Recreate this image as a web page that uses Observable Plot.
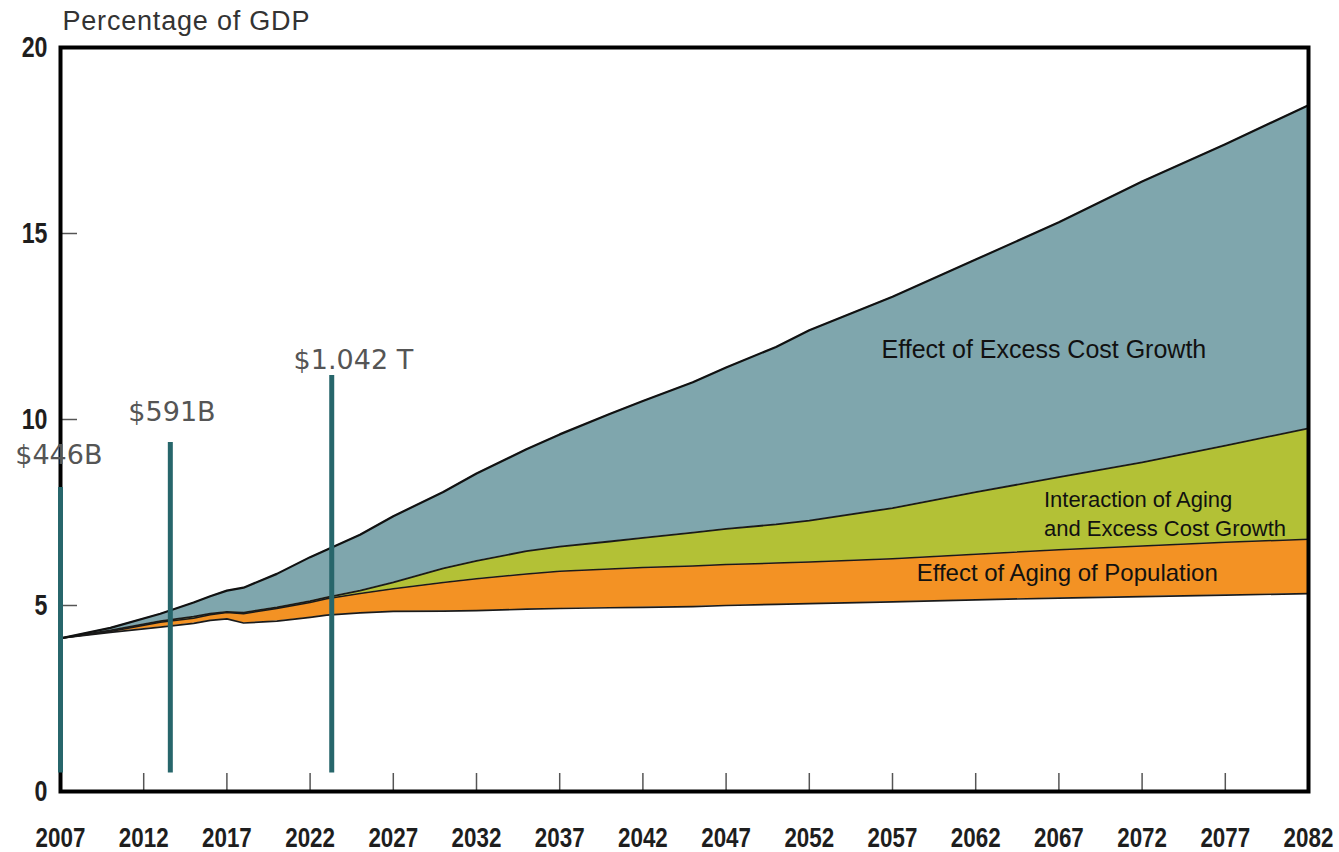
<!DOCTYPE html>
<html>
<head>
<meta charset="utf-8">
<script src="https://cdn.jsdelivr.net/npm/d3@7"></script>
<script src="https://cdn.jsdelivr.net/npm/@observablehq/plot@0.6"></script>
<style>
  html, body { margin: 0; padding: 0; background: #fff; }
  #chart { width: 1339px; height: 852px; }
</style>
</head>
<body>
<div id="chart"></div>
<script>
// ---- Data (percentage of GDP) ----
const years          = [2007, 2010, 2013, 2015, 2016, 2017, 2018, 2020, 2022, 2023, 2025, 2027, 2030, 2032, 2035, 2037, 2040, 2042, 2045, 2047, 2050, 2052, 2057, 2062, 2067, 2072, 2077, 2082];
// bottom of the orange band (spending without aging / excess cost growth)
const baseline       = [4.12, 4.28, 4.42, 4.52, 4.60, 4.64, 4.53, 4.58, 4.68, 4.74, 4.80, 4.84, 4.85, 4.86, 4.90, 4.92, 4.94, 4.95, 4.97, 5.00, 5.03, 5.05, 5.10, 5.15, 5.20, 5.24, 5.28, 5.32];
// top of "Effect of Aging of Population"
const agingTop       = [4.12, 4.30, 4.55, 4.66, 4.75, 4.81, 4.78, 4.92, 5.08, 5.18, 5.32, 5.45, 5.62, 5.72, 5.85, 5.92, 5.98, 6.02, 6.06, 6.10, 6.14, 6.17, 6.26, 6.38, 6.50, 6.60, 6.70, 6.78];
// top of "Interaction of Aging and Excess Cost Growth"
const interactionTop = [4.12, 4.33, 4.58, 4.70, 4.78, 4.83, 4.81, 4.95, 5.12, 5.22, 5.40, 5.62, 6.00, 6.20, 6.46, 6.58, 6.72, 6.82, 6.96, 7.06, 7.18, 7.28, 7.62, 8.05, 8.45, 8.85, 9.30, 9.76];
// top of "Effect of Excess Cost Growth" (total)
const total          = [4.12, 4.40, 4.78, 5.08, 5.25, 5.40, 5.48, 5.85, 6.30, 6.50, 6.90, 7.40, 8.05, 8.55, 9.20, 9.60, 10.15, 10.50, 11.00, 11.40, 11.95, 12.40, 13.30, 14.30, 15.30, 16.40, 17.40, 18.45];

const xTicks = [2007, 2012, 2017, 2022, 2027, 2032, 2037, 2042, 2047, 2052, 2057, 2062, 2067, 2072, 2077, 2082];
const yTicks = [0, 5, 10, 15, 20];
const yInnerTicks = [5, 10, 15];

// Spending markers (vertical bars with dollar labels)
const markerYears   = [2007, 2013.6, 2023.3];
const markerBottoms = [0.5, 0.5, 0.5];
const markerTops    = [8.17, 9.38, 11.18];
const markerLabels  = ["$446B", "$591B", "$1.042 T"];
const markerLabelX  = [2006.9, 2013.7, 2024.6];
const markerLabelY  = [9.03, 10.2, 11.6];

// Band annotations
const bandLabels = ["Effect of Excess Cost Growth", "Interaction of Aging\nand Excess Cost Growth", "Effect of Aging of Population"];
const bandLabelX = [2066.1, 2066.1, 2067.5];
const bandLabelY = [11.88, 7.5, 5.86];

// ---- Build tables ----
const rows = years.map((year, i) => ({
  year, base: baseline[i], aging: agingTop[i], inter: interactionTop[i], total: total[i]
}));
const markers = markerYears.map((year, i) => ({
  year, bottom: markerBottoms[i], top: markerTops[i], label: markerLabels[i], lx: markerLabelX[i], ly: markerLabelY[i]
}));
const bands = bandLabels.map((label, i) => ({label, x: bandLabelX[i], y: bandLabelY[i]}));

const W = 1339, H = 852;
const mL = 60, mR = 31, mT = 47, mB = 61;
const plotW = W - mL - mR, plotH = H - mT - mB;

const tickFont = "'Liberation Sans', Arial, sans-serif";

const chart = Plot.plot({
  width: W,
  height: H,
  marginLeft: mL,
  marginRight: mR,
  marginTop: mT,
  marginBottom: mB,
  style: {fontFamily: "'Liberation Sans', Arial, sans-serif", background: "#fff", overflow: "visible"},
  x: {domain: [2007, 2082], label: null},
  y: {domain: [0, 20], label: null},
  marks: [
    Plot.areaY(rows, {x: "year", y1: "base", y2: "aging", fill: "#f39224"}),
    Plot.areaY(rows, {x: "year", y1: "aging", y2: "inter", fill: "#b3c136"}),
    Plot.areaY(rows, {x: "year", y1: "inter", y2: "total", fill: "#7fa6ad"}),
    Plot.lineY(rows, {x: "year", y: "base", stroke: "#1a1a1a", strokeWidth: 1.7}),
    Plot.lineY(rows, {x: "year", y: "aging", stroke: "#1a1a1a", strokeWidth: 1.5}),
    Plot.lineY(rows, {x: "year", y: "inter", stroke: "#1a1a1a", strokeWidth: 1.8}),
    Plot.lineY(rows, {x: "year", y: "total", stroke: "#111", strokeWidth: 2.2}),
    // inner tick marks
    Plot.tickX(xTicks.slice(1, -1), {x: d => d, stroke: "#555", strokeWidth: 1.5, insetTop: plotH - 18}),
    Plot.tickY(yInnerTicks, {y: d => d, stroke: "#555", strokeWidth: 1.5, insetRight: plotW - 17}),
    // axis labels
    Plot.axisX({ticks: xTicks, tickFormat: d => String(d), tickSize: 0, tickPadding: 36,
      fontSize: 28, fontWeight: "bold", fontFamily: tickFont, fill: "#1e1e1e", label: null}),
    Plot.axisY({ticks: yTicks, tickFormat: d => String(d), tickSize: 0, tickPadding: 13,
      fontSize: 29, fontWeight: "bold", fontFamily: tickFont, fill: "#1e1e1e", label: null}),
    Plot.frame({stroke: "#000", strokeWidth: 4}),
    // title
    Plot.text(["Percentage of GDP"], {frameAnchor: "top-left", dx: 2, dy: -26, textAnchor: "start",
      fontSize: 27, fill: "#333", lineAnchor: "middle"}),
    // band labels
    Plot.text(bands.slice(0, 1), {x: "x", y: "y", text: "label", fontSize: 25, fill: "#111", textAnchor: "middle"}),
    Plot.text(bands.slice(1, 2), {x: "x", y: "y", text: "label", fontSize: 22, fill: "#111", textAnchor: "start", lineHeight: 1.32}),
    Plot.text(bands.slice(2, 3), {x: "x", y: "y", text: "label", fontSize: 24, fill: "#111", textAnchor: "middle"}),
    // spending markers
    Plot.ruleX(markers, {x: "year", y1: "bottom", y2: "top", stroke: "#27666b", strokeWidth: 5}),
    Plot.text(markers, {x: "lx", y: "ly", text: "label", fontSize: 27, fill: "#555",
      fontFamily: "'DejaVu Sans', Verdana, sans-serif"})
  ]
});

// condense the tick labels horizontally (the reference uses a narrow face)
d3.select(chart).selectAll('g[aria-label="x-axis tick label"] text, g[aria-label="y-axis tick label"] text')
  .each(function() {
    const t = this.getAttribute("transform") || "";
    this.setAttribute("transform", t + " scale(0.8,1)");
  });
// slight letter spacing on the title to match the reference's width
d3.select(chart).selectAll("text").filter(function() { return this.textContent === "Percentage of GDP"; })
  .attr("letter-spacing", "0.8");

document.getElementById("chart").appendChild(chart);
</script>
</body>
</html>
